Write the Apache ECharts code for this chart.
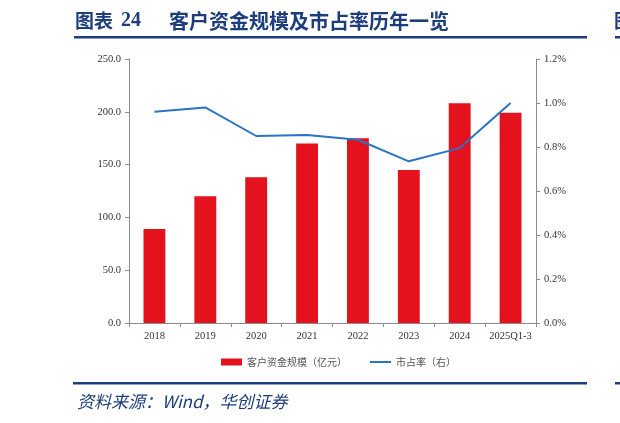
<!DOCTYPE html>
<html>
<head>
<meta charset="utf-8">
<script src="https://cdn.jsdelivr.net/npm/echarts@6/dist/echarts.min.js"></script>
<style>
html,body{margin:0;padding:0;background:#fff;}
#main{width:620px;height:423px;}
</style>
</head>
<body>
<div id="main"></div>
<script>
var categories = ['2018', '2019', '2020', '2021', '2022', '2023', '2024', '2025Q1-3'];
var fundScale = [89, 120, 138, 170, 175, 145, 208, 199];      // 客户资金规模（亿元）
var marketShare = [0.96, 0.98, 0.85, 0.855, 0.833, 0.735, 0.795, 1.0]; // 市占率 %
var leftTicks = { min: 0, max: 250, interval: 50 };
var rightTicks = { min: 0, max: 1.2, interval: 0.2 };

var navy = '#1d3d7c';
var axisGray = '#8c8c8c';
var serif = '"Liberation Serif", "Times New Roman", serif';
var cjk = '"Noto Sans CJK SC", sans-serif';

var chart = echarts.init(document.getElementById('main'));

var option = {
	backgroundColor: '#fff',
	animation: false,
	grid: {
		left: 129,
		right: 84,
		top: 59,
		bottom: 100
	},
	legend: {
		left: 216,
		top: 352,
		itemWidth: 21,
		itemHeight: 7,
		itemGap: 22,
		textStyle: {
			fontFamily: cjk,
			fontSize: 10,
			color: '#555'
		},
		data: [
			{ name: '客户资金规模（亿元）', icon: 'rect' },
			{ name: '市占率（右）', itemStyle: { opacity: 0 } }
		]
	},
	xAxis: {
		type: 'category',
		data: categories,
		axisLine: { lineStyle: { color: axisGray } },
		axisTick: { show: true, length: 4, alignWithLabel: false, lineStyle: { color: axisGray } },
		axisLabel: { interval: 0, fontFamily: serif, fontSize: 10.5, color: '#333', margin: 8 }
	},
	yAxis: [{
		type: 'value',
		min: leftTicks.min,
		max: leftTicks.max,
		interval: leftTicks.interval,
		axisLine: { show: true, lineStyle: { color: axisGray } },
		axisTick: { show: true, length: 4, lineStyle: { color: axisGray } },
		splitLine: { show: false },
		axisLabel: {
			fontFamily: serif, fontSize: 10.5, color: '#333', margin: 8,
			formatter: function (v) { return v.toFixed(1); }
		}
	}, {
		type: 'value',
		min: rightTicks.min,
		max: rightTicks.max,
		interval: rightTicks.interval,
		axisLine: { show: true, lineStyle: { color: axisGray } },
		axisTick: { show: true, length: 4, lineStyle: { color: axisGray } },
		splitLine: { show: false },
		axisLabel: {
			fontFamily: serif, fontSize: 10.5, color: '#333', margin: 8,
			formatter: function (v) { return v.toFixed(1) + '%'; }
		}
	}],
	series: [{
		name: '客户资金规模（亿元）',
		type: 'bar',
		data: fundScale,
		barWidth: '43%',
		itemStyle: { color: '#e3121d' }
	}, {
		name: '市占率（右）',
		type: 'line',
		yAxisIndex: 1,
		data: marketShare,
		symbol: 'none',
		lineStyle: { color: '#2b74c4', width: 2 },
		itemStyle: { color: '#2b74c4' }
	}],
	graphic: [
		// 标题
		{ type: 'text', left: 75, top: 11, style: { text: '图表', fontFamily: cjk, fontWeight: 'bold', fontSize: 19, fill: navy } },
		{ type: 'text', left: 121, top: 11, style: { text: '24', fontFamily: serif, fontWeight: 'bold', fontSize: 20, fill: navy } },
		{ type: 'text', left: 169, top: 11, style: { text: '客户资金规模及市占率历年一览', fontFamily: cjk, fontWeight: 'bold', fontSize: 20, fill: navy } },
		{ type: 'rect', shape: { x: 74, y: 36, width: 513, height: 2.5 }, style: { fill: navy } },
		// 右侧被截断的下一张图
		{ type: 'text', left: 614, top: 11, style: { text: '图', fontFamily: cjk, fontWeight: 'bold', fontSize: 19, fill: navy } },
		{ type: 'rect', shape: { x: 615, y: 36, width: 5, height: 2.5 }, style: { fill: navy } },
		// 底部
		{ type: 'rect', shape: { x: 73, y: 382, width: 514, height: 2.5 }, style: { fill: navy } },
		{ type: 'rect', shape: { x: 615, y: 382, width: 5, height: 2.5 }, style: { fill: navy } },
		{ type: 'text', left: 77, top: 393, style: { text: '资料来源：Wind，华创证券', fontFamily: cjk, fontStyle: 'italic', fontSize: 17, fill: navy } }
	]
};

chart.setOption(option);

window.onresize = function () {
	chart.resize();
};
</script>
</body>
</html>
